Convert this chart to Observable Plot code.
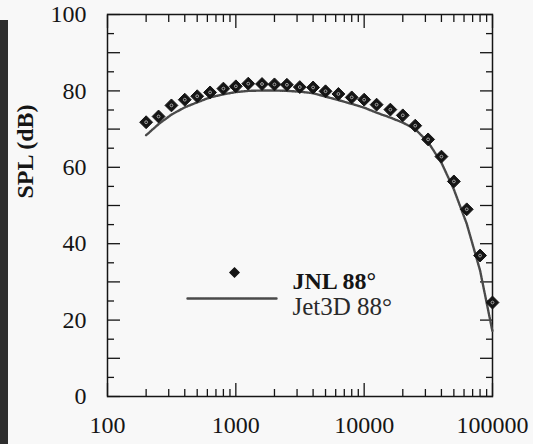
<!DOCTYPE html>
<html><head><meta charset="utf-8">
<script src="https://cdn.jsdelivr.net/npm/d3@7"></script>
<script src="https://cdn.jsdelivr.net/npm/@observablehq/plot@0.6"></script>
<style>
html,body{margin:0;padding:0;background:#f8f8f8;}
#wrap{position:relative;width:533px;height:444px;overflow:hidden;}
#strip{position:absolute;left:0;top:20px;width:8px;height:424px;background:#2e2e2e;}
#wrap svg{position:absolute;left:0;top:0;}
#wrap svg text{font-family:"Liberation Serif",serif;}
</style></head><body>
<div id="wrap"><div id="strip"></div></div>
<script>
// 1/3-octave band centre frequencies (Hz)
const freq = [200,250,315,400,500,630,800,1000,1250,1600,2000,2500,3150,4000,5000,6300,8000,10000,12500,16000,20000,25000,31500,40000,50000,63000,80000,100000];
// JNL 88° measured SPL (dB)
const jnl = [71.8,73.3,76.2,77.7,78.6,79.6,80.6,81.2,81.9,81.8,81.7,81.6,81.0,80.9,79.9,79.2,78.3,77.7,76.4,75.1,73.6,70.9,67.3,62.8,56.3,49.0,36.9,24.6];
// Jet3D 88° predicted SPL (dB)
const jet3d = [68.4,71.3,73.8,75.7,77.0,78.3,79.1,79.7,80.0,80.1,80.1,80.0,79.8,79.4,78.5,77.6,76.6,75.6,74.3,73.0,71.7,70.0,66.6,61.2,54.2,45.2,33.0,17.0];
const xTicks = [100,1000,10000,100000];
const yTicks = [0,20,40,60,80,100];
const yLabel = "SPL (dB)";
const legendLabels = ["JNL 88°","Jet3D 88°"];

const jnlData = freq.map((f,i)=>({f, v:jnl[i]}));
const jetData = freq.map((f,i)=>({f, v:jet3d[i]}));
const xMinor = [100,1000,10000].flatMap(d => d3.range(2,10).map(k=>k*d));
const yMajor = d3.range(0,101,10);
const yMinor = d3.range(5,100,10);

const font = "Liberation Serif";
const ink = "#151515";
const lineInk = "#4a4a4a";
const blank = () => "";
const tickStyle = {stroke: ink, strokeWidth: 1.3, label: null, tickFormat: blank};

const plot = Plot.plot({
  width: 533, height: 444,
  marginLeft: 107, marginRight: 41, marginTop: 14, marginBottom: 48,
  style: {background: "transparent", fontFamily: font, fontSize: "24px", color: ink, overflow: "visible"},
  x: {type: "log", domain: [100, 100000]},
  y: {domain: [0, 100]},
  marks: [
    // inward ticks on all four sides
    Plot.axisX(xTicks, {anchor: "bottom", tickSize: -13, ...tickStyle}),
    Plot.axisX(xTicks, {anchor: "top", tickSize: -13, ...tickStyle}),
    Plot.axisX(xMinor, {anchor: "bottom", tickSize: -7, ...tickStyle}),
    Plot.axisX(xMinor, {anchor: "top", tickSize: -7, ...tickStyle}),
    Plot.axisY(yMajor, {anchor: "left", tickSize: -13, ...tickStyle}),
    Plot.axisY(yMajor, {anchor: "right", tickSize: -13, ...tickStyle}),
    Plot.axisY(yMinor, {anchor: "left", tickSize: -7, ...tickStyle}),
    Plot.axisY(yMinor, {anchor: "right", tickSize: -7, ...tickStyle}),
    // tick labels
    Plot.axisX(xTicks, {anchor: "bottom", tickSize: 0, tickPadding: 19, tickFormat: d => String(d), label: null, fill: ink, fontFamily: font}),
    Plot.axisY(yTicks, {anchor: "left", tickSize: 0, tickPadding: 21, tickFormat: d => String(d), label: null, fill: ink, fontFamily: font}),
    Plot.frame({stroke: ink, strokeWidth: 1.5}),
    // y label
    Plot.text([yLabel], {frameAnchor: "left", dx: -82, dy: -7, rotate: -90, text: d => d, fontWeight: "bold", fontSize: 24, fontFamily: font, fill: ink}),
    // Jet3D line
    Plot.line(jetData, {x: "f", y: "v", stroke: lineInk, strokeWidth: 2.4, strokeDasharray: "1.5,1"}),
    // JNL diamonds
    Plot.dot(jnlData, {x: "f", y: "v", symbol: "diamond2", r: 5.8, fill: ink, stroke: ink, strokeWidth: 1}),
    Plot.dot(jnlData, {x: "f", y: "v", symbol: "circle", r: 1.4, fill: "none", stroke: "#a8a8a8", strokeWidth: 1}),
    // legend
    Plot.dot([legendLabels[0]], {frameAnchor: "top-left", dx: 127, dy: 258, symbol: "diamond2", r: 4, fill: ink, stroke: ink}),
    Plot.text([legendLabels[0]], {frameAnchor: "top-left", dx: 185, dy: 257, text: d => d, textAnchor: "start", fontWeight: "bold", fontSize: 24, fontFamily: font, fill: ink}),
    Plot.vector([legendLabels[1]], {frameAnchor: "top-left", dx: 80, dy: 284, length: 90, rotate: 90, anchor: "start",
      shape: {draw(c, l) { c.moveTo(0, 0); c.lineTo(0, -l); }}, stroke: lineInk, strokeWidth: 2.4, strokeDasharray: "1.5,1"}),
    Plot.text([legendLabels[1]], {frameAnchor: "top-left", dx: 185, dy: 283, text: d => d, textAnchor: "start", fontSize: 25, fontFamily: font, fill: "#2a2a2a"})
  ]
});
document.getElementById("wrap").appendChild(plot);
</script>
</body></html>
